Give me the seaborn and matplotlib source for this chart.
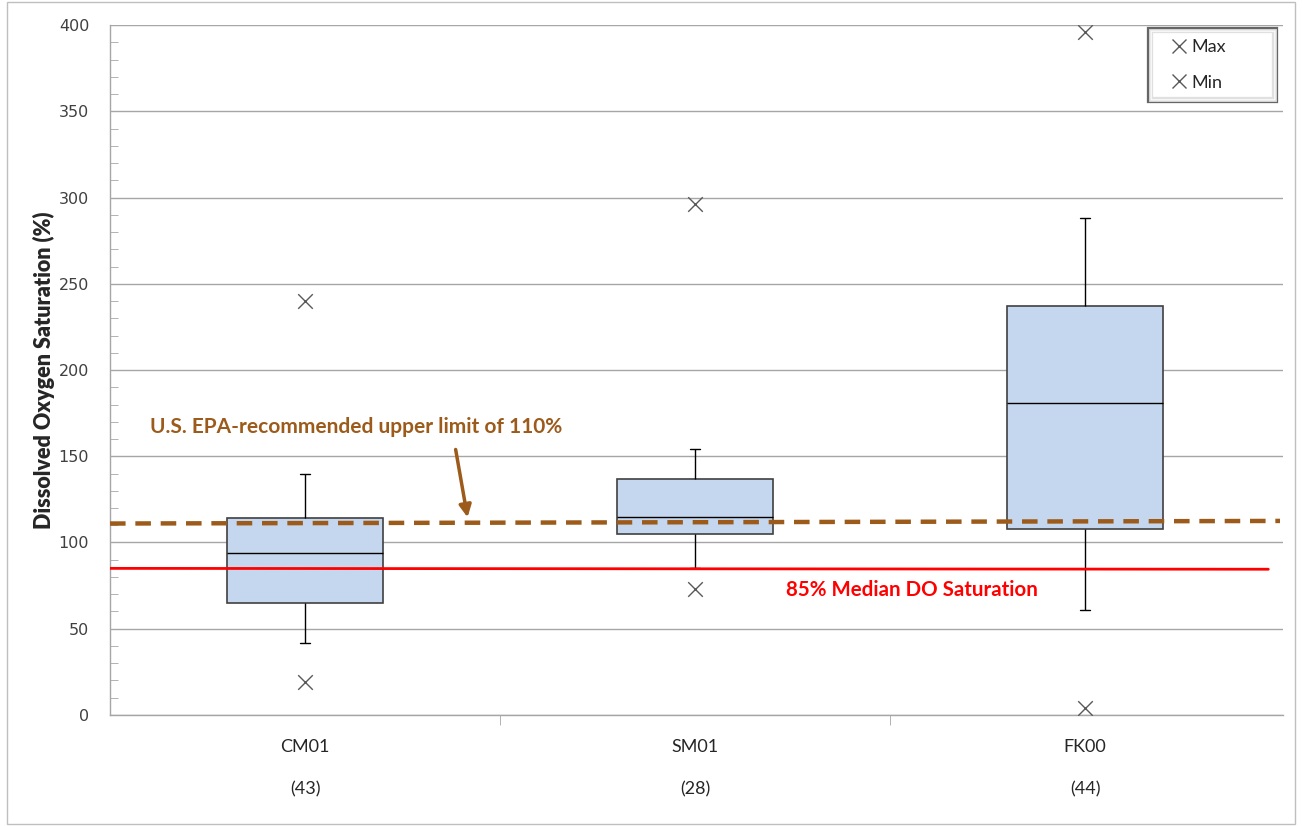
import pandas as pd
import matplotlib.pyplot as plt
import matplotlib.patheffects as pe
import seaborn as sns
from matplotlib.patches import Rectangle
from matplotlib.lines import Line2D
from matplotlib.ticker import MultipleLocator, FixedLocator

# values
sites = ["CM01", "SM01", "FK00"]
counts = [43, 28, 44]
whisker_low = [42, 85, 61]
q1 = [65, 105, 108]
median = [94, 115, 181]
q3 = [114, 137, 237]
whisker_high = [140, 154, 288]
max_vals = [240, 296, 396]
min_vals = [19, 73, 4]

epa_limit = [111, 112.5]
median_do = [85, 84.5]
y_ticks = [0, 50, 100, 150, 200, 250, 300, 350, 400]


def main():
    # five-number summary per site -> percentiles 0/25/50/75/100 reproduce it exactly
    rows = []
    for i, s in enumerate(sites):
        for v in [whisker_low[i], q1[i], median[i], q3[i], whisker_high[i]]:
            rows.append({"site": s, "value": v})
    df = pd.DataFrame(rows)
    extremes = pd.DataFrame({"site": sites, "max": max_vals, "min": min_vals})

    sns.set_style("white")
    plt.rcParams["font.family"] = ["Lato", "DejaVu Sans"]

    fig = plt.figure(figsize=(13.02, 8.26), dpi=100)
    ax = fig.add_axes([0.0845, 0.1344, 0.901, 0.8353])

    ax.yaxis.grid(True, color="#a6a6a6", linewidth=1)
    ax.set_axisbelow(True)

    sns.boxplot(data=df, x="site", y="value", order=sites, whis=(0, 100),
                width=0.4, color="#c5d7ee", saturation=1, linewidth=1.2,
                boxprops=dict(edgecolor="#404040", facecolor="#c5d7ee"),
                whiskerprops=dict(color="black", linewidth=1),
                capprops=dict(color="black", linewidth=1),
                medianprops=dict(color="black", linewidth=1),
                showfliers=False, ax=ax)

    # narrow the caps like the reference
    for line in ax.lines:
        xd, yd = line.get_xdata(), line.get_ydata()
        if len(yd) == 2 and yd[0] == yd[1] and len(xd) == 2:
            cx = (xd[0] + xd[1]) / 2
            if abs(xd[1] - xd[0]) < 0.3:
                line.set_xdata([cx - 0.013, cx + 0.013])

    sns.scatterplot(data=extremes, x="site", y="max", marker="x", s=110,
                    color="#595959", linewidth=1, ax=ax, zorder=5)
    sns.scatterplot(data=extremes, x="site", y="min", marker="x", s=110,
                    color="#595959", linewidth=1, ax=ax, zorder=5)

    # reference lines
    ax.plot([-0.5, 2.5], epa_limit, color="#9c5b1a", linewidth=3.2,
            linestyle=(0, (3.5, 2.2)), zorder=6)
    ax.plot([-0.5, 2.47], median_do, color="#ff0000", linewidth=2, zorder=6)

    ax.text(0.132, 167, "U.S. EPA-recommended upper limit of 110%",
            color="#9c5b1a", fontsize=15, fontweight="bold",
            ha="center", va="center")
    ax.annotate("", xy=(0.418, 113), xytext=(0.385, 155.5),
                arrowprops=dict(arrowstyle="-|>", color="#9c5b1a", lw=2.5,
                                mutation_scale=18))
    ax.text(1.556, 72.5, "85% Median DO Saturation", color="#ff0000",
            fontsize=14.8, fontweight="bold", ha="center", va="center")

    ax.set_xlim(-0.5, 2.508)
    ax.set_ylim(0, 400)
    ax.set_yticks(y_ticks)
    ax.set_yticklabels([str(t) for t in y_ticks], family="DejaVu Sans",
                       fontsize=11.5, color="#404040")
    ax.yaxis.set_minor_locator(MultipleLocator(10))
    ax.tick_params(axis="y", which="major", direction="out", length=8,
                   color="#a6a6a6", pad=7)
    ax.tick_params(axis="y", which="minor", direction="in", length=6,
                   color="#a6a6a6", left=True)

    ax.set_xticks(range(len(sites)))
    ax.set_xticklabels([f"{s}\n\n({n})" for s, n in zip(sites, counts)],
                       fontsize=13, color="#262626", linespacing=1.4)
    ax.tick_params(axis="x", which="major", length=0, pad=17)
    ax.xaxis.set_minor_locator(FixedLocator([0.5, 1.5]))
    ax.tick_params(axis="x", which="minor", direction="out", length=7,
                   color="#a6a6a6", bottom=True)

    for side in ["top", "right"]:
        ax.spines[side].set_visible(False)
    for side in ["left", "bottom"]:
        ax.spines[side].set_color("#a6a6a6")
        ax.spines[side].set_linewidth(1)

    ax.set_xlabel("")
    ax.set_ylabel("Dissolved Oxygen Saturation (%)", fontsize=15.5,
                  fontweight="heavy")
    ax.yaxis.set_label_coords(-0.047, 0.5)

    handles = [Line2D([], [], marker="x", color="#595959", linestyle="",
                      markersize=10, label="Max"),
               Line2D([], [], marker="x", color="#595959", linestyle="",
                      markersize=10, label="Min")]
    leg = ax.legend(handles=handles, loc="upper left", fontsize=13,
                    frameon=True, fancybox=False, handletextpad=-0.4,
                    handlelength=2.2, labelspacing=1.1, borderpad=0.5,
                    borderaxespad=0, mode="expand",
                    bbox_to_anchor=(0.8866, 0.993, 0.1066, 0))
    frame = leg.get_frame()
    frame.set_edgecolor("#404040")
    frame.set_linewidth(1)
    frame.set_path_effects([pe.Stroke(linewidth=4.5, foreground="#404040"),
                            pe.Stroke(linewidth=2, foreground="white")])

    fig.add_artist(Rectangle((0.005, 0.003), 0.99, 0.994,
                             transform=fig.transFigure, fill=False,
                             edgecolor="#bfbfbf", linewidth=1))

    fig.savefig("out.png", dpi=100)
    plt.close(fig)


if __name__ == "__main__":
    main()
